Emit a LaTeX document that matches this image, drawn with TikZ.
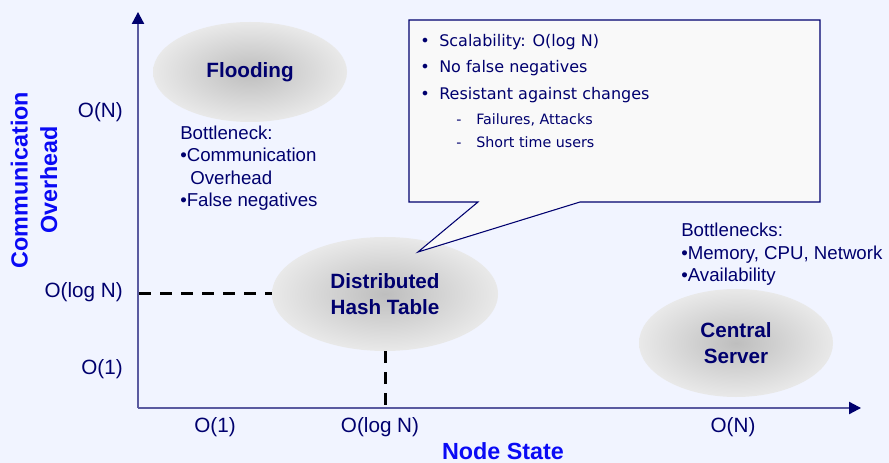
\documentclass[tikz,border=0pt]{standalone}
\usepackage{fontspec}
\setmainfont{Liberation Sans}
\newfontfamily\calloutfont{DejaVu Sans}
\usetikzlibrary{arrows.meta,shapes.geometric}
\definecolor{bgpaper}{RGB}{241,244,255}
\definecolor{navy}{RGB}{0,0,110}
\definecolor{axisline}{RGB}{90,90,160}
\definecolor{axisblue}{RGB}{10,10,245}
\definecolor{blobin}{RGB}{190,190,190}
\definecolor{blobout}{RGB}{233,233,233}
\definecolor{calloutfill}{RGB}{249,249,249}
\tikzset{
  lbl/.style={inner sep=0pt, text height=0.72em, text depth=0pt, text=navy},
  tick/.style={lbl, font=\fontsize{15.5}{18}\selectfont},
  note/.style={lbl, anchor=west, font=\fontsize{14}{16.5}\selectfont},
  axistitle/.style={inner sep=0pt, text=axisblue, font=\bfseries\fontsize{17.5}{22}\selectfont, align=center},
  blob/.style={ellipse, inner sep=0pt, shading=radial, inner color=blobin, outer color=blobout,
    text=navy, align=center, font=\bfseries\fontsize{15.5}{19}\selectfont},
  axis/.style={draw=axisline, line width=1.1pt, -{Triangle[length=9pt,width=9.2pt,color=navy]}},
  guide/.style={draw=black, line width=2.25pt, dash pattern=on 9pt off 6.75pt},
  cmain/.style={lbl, anchor=west, font=\calloutfont\fontsize{12}{14}\selectfont},
  csub/.style={lbl, anchor=west, font=\calloutfont\fontsize{10.7}{13}\selectfont},
}
\begin{document}
\begin{tikzpicture}[x=0.75pt,y=-0.75pt]
  % paper
  \fill[bgpaper] (0,0) rectangle (889,463);
  \useasboundingbox (0,0) rectangle (889,463);

  % axes
  \coordinate (origin) at (138,408);
  \coordinate (ytip) at (138,12);
  \coordinate (xtip) at (861,408);
  \draw[axis] (origin) -- (ytip);
  \draw[axis] (origin) -- (xtip);

  % the three approaches
  \node[blob, minimum width=145.5pt, minimum height=75pt] (flood) at (250,72) {Flooding};
  \node[blob, minimum width=169.5pt, minimum height=85.5pt] (dht) at (385,294) {Distributed\\Hash Table};
  \node[blob, minimum width=145.5pt, minimum height=81pt] (central) at (736,343) {Central\\Server};

  % guide lines from the axes to the DHT
  \coordinate (ylog) at (139,294);
  \coordinate (xlog) at (385,407);
  \draw[guide] (ylog) -- (dht.west);
  \draw[guide] (dht.south) -- (xlog);

  % tick labels
  \node[tick, anchor=east] (yn) at (123,113) {O(N)};
  \node[tick, anchor=east] (ylogn) at (123,293) {O(log N)};
  \node[tick, anchor=east] (yone) at (123,370) {O(1)};
  \node[tick] (xone) at (215,428) {O(1)};
  \node[tick] (xlogn) at (380,428) {O(log N)};
  \node[tick] (xn) at (733,428) {O(N)};

  % axis titles
  \node[axistitle] (xtitle) at (503,451) {Node State};
  \node[axistitle, rotate=90] (ytitle) at (34,180) {Communication\\Overhead};

  % bottleneck notes
  \node[note] (fb0) at (180,135) {Bottleneck:};
  \node[note] (fb1) at (180,157) {•Communication};
  \node[note] (fb2) at (190,180) {Overhead};
  \node[note] (fb3) at (180,202) {•False negatives};
  \node[note] (cb0) at (681,232) {Bottlenecks:};
  \node[note] (cb1) at (681,255) {•Memory, CPU, Network};
  \node[note] (cb2) at (681,277) {•Availability};

  % speech bubble pointing at the DHT
  \coordinate (bnw) at (409,20);
  \coordinate (bne) at (820,20);
  \coordinate (bse) at (820,202);
  \coordinate (bpr) at (580,202);
  \coordinate (bptip) at (418,252);
  \coordinate (bpl) at (478,202);
  \coordinate (bsw) at (409,202);
  \draw[navy, line width=0.8pt, fill=calloutfill, line join=miter]
    (bnw) -- (bne) -- (bse) -- (bpr) -- (bptip) -- (bpl) -- (bsw) -- cycle;

  \node[cmain] (k1b) at (420,42) {•};
  \node[cmain] (k1) at (439,42) {Scalability: O(log N)};
  \node[cmain] (k2b) at (420,68) {•};
  \node[cmain] (k2) at (439,68) {No false negatives};
  \node[cmain] (k3b) at (420,95) {•};
  \node[cmain] (k3) at (439,95) {Resistant against changes};
  \node[csub] (s1d) at (456,120) {-};
  \node[csub] (s1) at (476,120) {Failures, Attacks};
  \node[csub] (s2d) at (456,143) {-};
  \node[csub] (s2) at (476,143) {Short time users};
\end{tikzpicture}
\end{document}
